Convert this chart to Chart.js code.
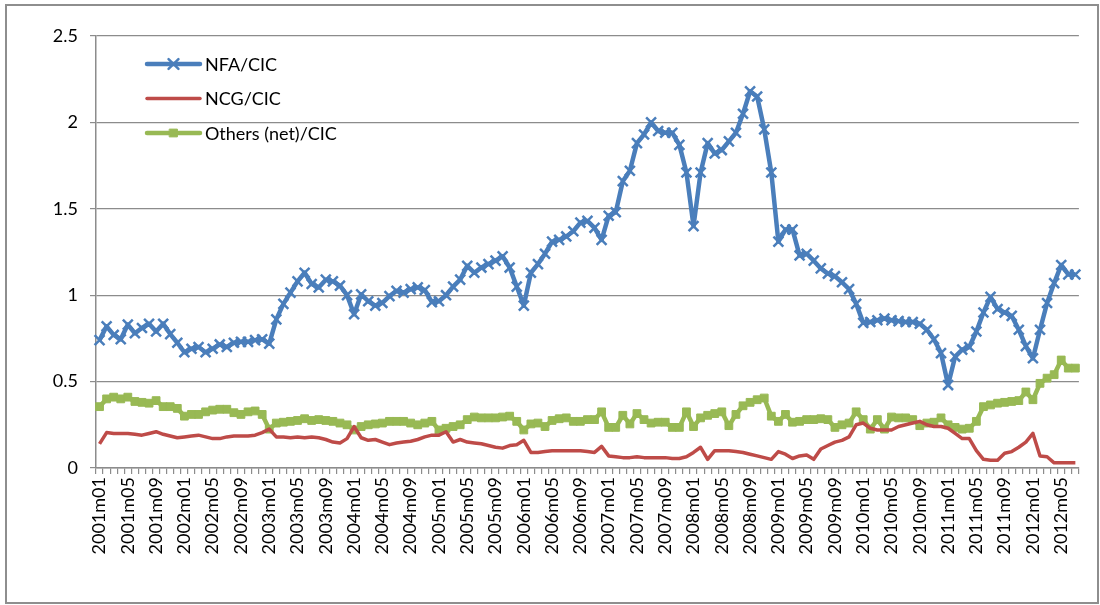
<!DOCTYPE html>
<html>
<head>
<meta charset="utf-8">
<script src="https://cdn.jsdelivr.net/npm/chart.js@4/dist/chart.umd.min.js"></script>
<style>
  body { margin: 0; background: #fff; }
  #wrap { position: relative; width: 1100px; height: 605px; }
  #chart { position: absolute; left: 0; top: 0; }
  #frame { position: absolute; left: 5px; top: 4px; width: 1090px; height: 596px; border: 2px solid #8e8e8e; pointer-events: none; }
</style>
</head>
<body>
<div id="wrap">
  <canvas id="chart" width="1100" height="605"></canvas>
  <div id="frame"></div>
</div>
<script>
'use strict';

// 月次データ 2001m01 〜 2012m07
const startYear = 2001;
const monthCount = 139;

const nfaCic = [
  0.74, 0.82, 0.77, 0.745, 0.83, 0.78, 0.81, 0.835, 0.79, 0.835, 0.775, 0.725,   // 2001
  0.67, 0.69, 0.70, 0.67, 0.69, 0.715, 0.70, 0.725, 0.73, 0.73, 0.74, 0.745,     // 2002
  0.72, 0.86, 0.95, 1.015, 1.08, 1.13, 1.065, 1.045, 1.09, 1.08, 1.055, 1.0,     // 2003
  0.89, 1.005, 0.965, 0.94, 0.955, 0.995, 1.025, 1.015, 1.035, 1.045, 1.03, 0.96, // 2004
  0.965, 1.0, 1.05, 1.09, 1.17, 1.13, 1.16, 1.18, 1.2, 1.225, 1.16, 1.05,        // 2005
  0.94, 1.13, 1.18, 1.24, 1.31, 1.32, 1.34, 1.37, 1.42, 1.43, 1.39, 1.32,        // 2006
  1.46, 1.48, 1.66, 1.72, 1.88, 1.93, 2.0, 1.95, 1.94, 1.94, 1.87, 1.71,         // 2007
  1.40, 1.71, 1.88, 1.82, 1.84, 1.89, 1.94, 2.05, 2.18, 2.15, 1.96, 1.71,        // 2008
  1.31, 1.38, 1.38, 1.23, 1.24, 1.20, 1.155, 1.125, 1.11, 1.075, 1.035, 0.95,    // 2009
  0.84, 0.845, 0.855, 0.865, 0.855, 0.85, 0.845, 0.845, 0.835, 0.80, 0.745, 0.665, // 2010
  0.48, 0.645, 0.685, 0.70, 0.79, 0.90, 0.99, 0.92, 0.90, 0.88, 0.80, 0.705,     // 2011
  0.635, 0.80, 0.955, 1.07, 1.175, 1.12, 1.12                                    // 2012
];

const ncgCic = [
  0.14, 0.205, 0.20, 0.20, 0.20, 0.195, 0.19, 0.20, 0.21, 0.195, 0.185, 0.175,
  0.18, 0.185, 0.19, 0.18, 0.17, 0.17, 0.18, 0.185, 0.185, 0.185, 0.19, 0.205,
  0.225, 0.18, 0.18, 0.175, 0.18, 0.175, 0.18, 0.175, 0.165, 0.15, 0.145, 0.17,
  0.24, 0.175, 0.16, 0.165, 0.15, 0.135, 0.145, 0.15, 0.155, 0.165, 0.18, 0.19,
  0.19, 0.21, 0.15, 0.165, 0.15, 0.145, 0.14, 0.13, 0.12, 0.115, 0.13, 0.135,
  0.16, 0.09, 0.09, 0.095, 0.10, 0.10, 0.10, 0.10, 0.10, 0.095, 0.09, 0.125,
  0.07, 0.065, 0.06, 0.06, 0.065, 0.06, 0.06, 0.06, 0.06, 0.055, 0.055, 0.065,
  0.09, 0.12, 0.05, 0.10, 0.10, 0.10, 0.095, 0.09, 0.08, 0.07, 0.06, 0.05,
  0.095, 0.08, 0.055, 0.07, 0.075, 0.05, 0.11, 0.13, 0.15, 0.16, 0.18, 0.25,
  0.26, 0.23, 0.22, 0.22, 0.22, 0.24, 0.25, 0.26, 0.27, 0.25, 0.24, 0.24,
  0.23, 0.20, 0.17, 0.17, 0.10, 0.05, 0.045, 0.045, 0.085, 0.095, 0.12, 0.15,
  0.20, 0.07, 0.065, 0.03, 0.03, 0.03, 0.03
];

const othersCic = [
  0.355, 0.40, 0.41, 0.40, 0.41, 0.385, 0.38, 0.375, 0.39, 0.355, 0.355, 0.345,
  0.30, 0.31, 0.31, 0.325, 0.335, 0.34, 0.34, 0.32, 0.31, 0.325, 0.33, 0.31,
  0.225, 0.26, 0.265, 0.27, 0.275, 0.285, 0.275, 0.28, 0.275, 0.27, 0.26, 0.25,
  0.22, 0.24, 0.25, 0.255, 0.26, 0.27, 0.27, 0.27, 0.26, 0.25, 0.26, 0.27,
  0.22, 0.23, 0.24, 0.25, 0.28, 0.295, 0.29, 0.29, 0.29, 0.295, 0.30, 0.27,
  0.22, 0.255, 0.26, 0.24, 0.275, 0.285, 0.29, 0.27, 0.27, 0.28, 0.28, 0.325,
  0.235, 0.235, 0.305, 0.255, 0.315, 0.28, 0.26, 0.265, 0.265, 0.235, 0.235, 0.325,
  0.24, 0.29, 0.305, 0.315, 0.325, 0.245, 0.31, 0.36, 0.38, 0.395, 0.405, 0.30,
  0.27, 0.31, 0.265, 0.27, 0.28, 0.28, 0.285, 0.28, 0.235, 0.25, 0.26, 0.325,
  0.28, 0.225, 0.28, 0.225, 0.295, 0.29, 0.29, 0.28, 0.245, 0.26, 0.265, 0.29,
  0.25, 0.235, 0.225, 0.23, 0.27, 0.355, 0.365, 0.375, 0.38, 0.385, 0.39, 0.44,
  0.395, 0.49, 0.52, 0.54, 0.625, 0.578, 0.578
];

const yTicks = { min: 0, max: 2.5, step: 0.5 };
const labelEvery = 4;

// ラベル "2001m01" 形式
const months = [];
for (let i = 0; i < monthCount; i++) {
  const y = startYear + Math.floor(i / 12);
  const m = (i % 12) + 1;
  months.push(y + 'm' + (m < 10 ? '0' + m : m));
}

const BLUE = '#4A7EBB';
const RED = '#BE4B48';
const GREEN = '#98B954';
const GRID = '#8c8c8c';
const FONT = 'Lato, "Open Sans", sans-serif';

// 凡例をプロット内に描く
const insideLegend = {
  id: 'insideLegend',
  afterDraw(chart) {
    const { ctx, chartArea } = chart;
    ctx.save();
    chart.data.datasets.forEach((ds, i) => {
      const y = chartArea.top + 28 + i * 34.5;
      const x0 = chartArea.left + 51;
      ctx.strokeStyle = ds.borderColor;
      ctx.lineWidth = ds.borderWidth;
      ctx.lineCap = 'round';
      ctx.beginPath();
      ctx.moveTo(x0, y);
      ctx.lineTo(x0 + 53, y);
      ctx.stroke();
      if (ds.pointRadius > 0) {
        ctx.fillStyle = ds.borderColor;
        ctx.lineWidth = ds.pointBorderWidth;
        Chart.helpers.drawPoint(ctx, {
          pointStyle: ds.pointStyle, rotation: 0,
          radius: ds.pointRadius, borderWidth: ds.pointBorderWidth
        }, x0 + 26.5, y);
      }
      ctx.fillStyle = '#000';
      ctx.font = '18px ' + FONT;
      ctx.textBaseline = 'middle';
      ctx.textAlign = 'left';
      ctx.fillText(ds.label, x0 + 58, y + 1);
    });
    ctx.restore();
  }
};

const ctx = document.getElementById('chart').getContext('2d');

new Chart(ctx, {
  type: 'line',
  data: {
    labels: months,
    datasets: [
      {
        label: 'NFA/CIC',
        data: nfaCic,
        borderColor: BLUE,
        backgroundColor: BLUE,
        borderWidth: 4.5,
        borderJoinStyle: 'round',
        pointStyle: 'crossRot',
        pointRadius: 7,
        pointBorderWidth: 2.5,
        pointBorderColor: BLUE,
        pointBackgroundColor: BLUE,
        tension: 0,
      },
      {
        label: 'NCG/CIC',
        data: ncgCic,
        borderColor: RED,
        backgroundColor: RED,
        borderWidth: 3.5,
        borderJoinStyle: 'round',
        pointRadius: 0,
        tension: 0,
      },
      {
        label: 'Others (net)/CIC',
        data: othersCic,
        borderColor: GREEN,
        backgroundColor: GREEN,
        borderWidth: 4.5,
        borderJoinStyle: 'round',
        pointStyle: 'rect',
        pointRadius: 5.5,
        pointBorderWidth: 1,
        pointBorderColor: GREEN,
        pointBackgroundColor: GREEN,
        tension: 0,
      },
    ]
  },
  options: {
    responsive: false,
    animation: false,
    layout: { padding: { top: 36, right: 8, left: 0, bottom: 0 } },
    plugins: {
      legend: { display: false },
      tooltip: { enabled: false },
    },
    scales: {
      x: {
        offset: true,
        grid: { offset: true, drawOnChartArea: false, drawTicks: true, tickLength: 6, color: GRID, lineWidth: 1.2 },
        border: { color: GRID, width: 1.5 },
        ticks: {
          autoSkip: false,
          maxRotation: 90,
          minRotation: 90,
          padding: 3,
          color: '#000',
          font: { family: FONT, size: 18 },
          callback(value, index) {
            return index % labelEvery === 0 ? this.getLabelForValue(value) : '';
          },
        },
        afterFit(scale) { scale.height = 137; },
      },
      y: {
        min: yTicks.min,
        max: yTicks.max,
        ticks: {
          stepSize: yTicks.step,
          padding: 12,
          color: '#000',
          font: { family: FONT, size: 18 },
          callback(value) { return String(value); },
        },
        grid: { color: GRID, tickLength: 6, lineWidth: 1.2 },
        border: { color: GRID, width: 1.5 },
        afterFit(scale) { scale.width = 96; },
      }
    }
  },
  plugins: [insideLegend],
});
</script>
</body>
</html>
